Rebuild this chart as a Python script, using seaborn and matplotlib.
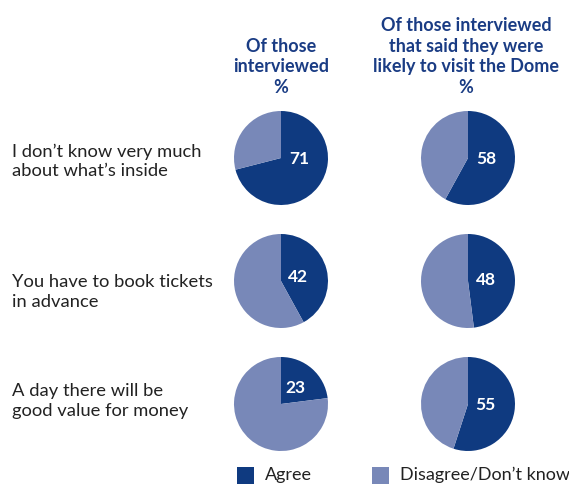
import numpy as np
import matplotlib
matplotlib.use("Agg")
import matplotlib.pyplot as plt
import seaborn as sns

# Survey statements and share who agreed (%)
statements = [
    "I don\u2019t know very much\nabout what\u2019s inside",
    "You have to book tickets\nin advance",
    "A day there will be\ngood value for money",
]
agree_all = [71, 42, 23]
agree_likely = [58, 48, 55]
column_titles = [
    "Of those\ninterviewed\n%",
    "Of those interviewed\nthat said they were\nlikely to visit the Dome\n%",
]
legend_labels = ["Agree", "Disagree/Don\u2019t know"]

sns.set_theme(style="white")
plt.rcParams["font.family"] = ["Lato", "DejaVu Sans"]
palette = sns.color_palette(["#0f3a80", "#7888b8"])
title_color = "#1a3c84"

W, H = 569, 486
fig = plt.figure(figsize=(W / 100, H / 100), dpi=100)
ax = fig.add_axes([0, 0, 1, 1])

col_x = [281, 468]
row_y = [158, 281, 404]
label_y = [161, 292, 401]
radius = 47

def Y(y):
    return H - y

for ci, values in enumerate([agree_all, agree_likely]):
    for ri, v in enumerate(values):
        cx, cy = col_x[ci], Y(row_y[ri])
        ax.pie([v, 100 - v], colors=palette, startangle=90, counterclock=False,
               center=(cx, cy), radius=radius,
               wedgeprops=dict(linewidth=0))
        mid = 90 - v / 100 * 180
        ang = np.deg2rad(np.clip(mid, -4, 50))
        r = 0.38 * radius if mid < 40 else 0.46 * radius
        ax.text(cx + r * np.cos(ang), cy + r * np.sin(ang), str(v),
                color="white", fontsize=12.5, fontweight="bold",
                ha="center", va="center")

ax.set_xlim(0, W)
ax.set_ylim(0, H)
ax.set_aspect("equal")
ax.axis("off")

# Column headings (bottom-aligned)
ax.text(col_x[0], Y(96), column_titles[0], ha="center", va="bottom",
        color=title_color, fontsize=13, fontweight="bold", linespacing=1.25)
ax.text(466, Y(96), column_titles[1], ha="center", va="bottom",
        color=title_color, fontsize=13, fontweight="bold", linespacing=1.25)

# Row statements
for ri, s in enumerate(statements):
    ax.text(12, Y(label_y[ri]), s, ha="left", va="center", color="#222222",
            fontsize=13.2, linespacing=1.25)

# Legend
sq = 17
for (x0, lab), col in zip([(237, legend_labels[0]), (372, legend_labels[1])], palette):
    ax.add_patch(plt.Rectangle((x0, Y(484)), sq, sq, color=col, lw=0))
    ax.text(x0 + sq + 11, Y(475), lab, ha="left", va="center",
            color="#222222", fontsize=13)

fig.savefig("out.png", dpi=100)
